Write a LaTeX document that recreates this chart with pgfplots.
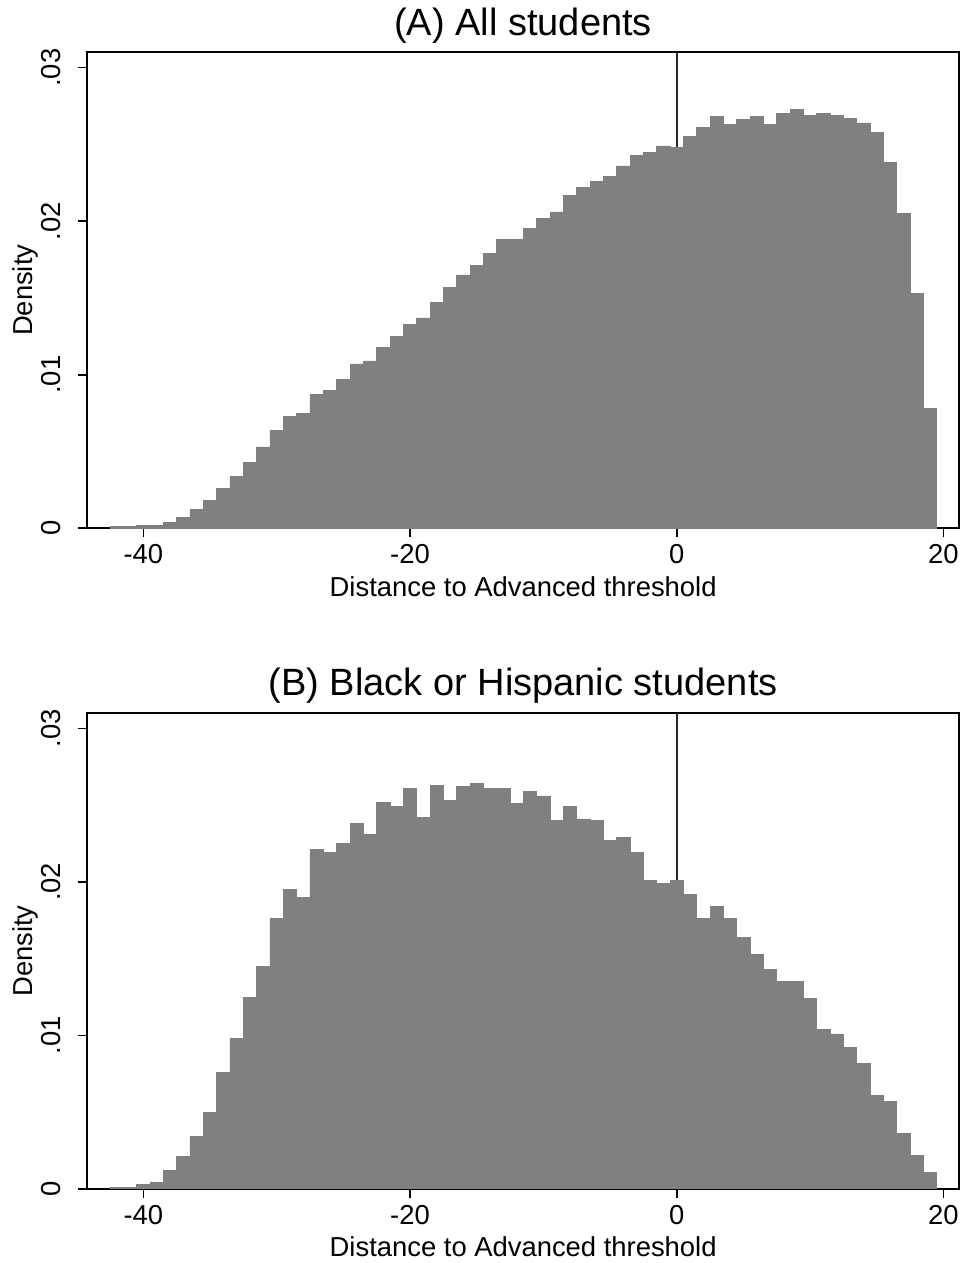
\documentclass[border=0pt]{standalone}
\usepackage{fontspec}
\setmainfont{Liberation Sans}
\usepackage{pgfplots}
\pgfplotsset{compat=1.18}
\usepackage{pgfplotstable}

\definecolor{bargray}{RGB}{128,128,128}
\definecolor{linegray}{RGB}{40,40,40}

% bin centre, density
\pgfplotstableread{
bin dens
-42 0.0001
-41 0.0001
-40 0.0002
-39 0.0002
-38 0.0004
-37 0.0007
-36 0.0012
-35 0.0018
-34 0.0026
-33 0.0034
-32 0.0043
-31 0.0053
-30 0.0064
-29 0.0073
-28 0.0075
-27 0.0087
-26 0.0090
-25 0.0097
-24 0.0107
-23 0.0109
-22 0.0118
-21 0.0125
-20 0.0133
-19 0.0137
-18 0.0147
-17 0.0157
-16 0.0165
-15 0.0171
-14 0.0179
-13 0.0188
-12 0.0188
-11 0.0195
-10 0.0202
-9 0.0206
-8 0.0217
-7 0.0222
-6 0.0226
-5 0.0229
-4 0.0236
-3 0.0243
-2 0.0245
-1 0.0249
0 0.0248
1 0.0255
2 0.0261
3 0.0268
4 0.0263
5 0.0266
6 0.0268
7 0.0263
8 0.0270
9 0.0273
10 0.0269
11 0.0270
12 0.0269
13 0.0267
14 0.0264
15 0.0258
16 0.0238
17 0.0205
18 0.0153
19 0.0078
}\allstudents

\pgfplotstableread{
bin dens
-42 0.0001
-41 0.0001
-40 0.0003
-39 0.0004
-38 0.0012
-37 0.0021
-36 0.0034
-35 0.0050
-34 0.0076
-33 0.0098
-32 0.0125
-31 0.0145
-30 0.0176
-29 0.0195
-28 0.0190
-27 0.0221
-26 0.0219
-25 0.0225
-24 0.0238
-23 0.0231
-22 0.0252
-21 0.0249
-20 0.0261
-19 0.0242
-18 0.0263
-17 0.0253
-16 0.0262
-15 0.0264
-14 0.0261
-13 0.0261
-12 0.0251
-11 0.0259
-10 0.0256
-9 0.0240
-8 0.0249
-7 0.0241
-6 0.0240
-5 0.0227
-4 0.0229
-3 0.0219
-2 0.0201
-1 0.0199
0 0.0201
1 0.0192
2 0.0176
3 0.0184
4 0.0176
5 0.0164
6 0.0153
7 0.0143
8 0.0135
9 0.0135
10 0.0124
11 0.0104
12 0.0101
13 0.0092
14 0.0082
15 0.0061
16 0.0057
17 0.0036
18 0.0022
19 0.0011
}\blackhisp

\pgfplotsset{
  histax/.style={
    scale only axis,
    width=435.85pt, height=238pt,
    xmin=-44.2, xmax=21.17,
    ymin=0, ymax=0.031,
    axis line style={black, line width=0.8pt},
    tick style={black, line width=0.8pt},
    tick align=outside,
    major tick length=4.5pt,
    xtick pos=bottom, ytick pos=left,
    scaled y ticks=false,
    xtick={-40,-20,0,20},
    xticklabels={-40,-20,0,20},
    ytick={0,0.01,0.02,0.03},
    yticklabels={0,.01,.02,.03},
    tick label style={font=\fontsize{13.7pt}{16pt}\selectfont},
    xticklabel style={yshift=-2.5pt, inner ysep=1pt},
    yticklabel style={rotate=90, anchor=south, yshift=5pt},
    label style={font=\fontsize{13.7pt}{16pt}\selectfont},
    xlabel={Distance to Advanced threshold},
    ylabel={Density},
    xlabel style={at={(axis description cs:0.5,0)}, anchor=base, yshift=-34pt, inner ysep=1pt},
    ylabel style={at={(axis description cs:0,0.5)}, anchor=base, yshift=27.6pt},
    title style={font=\fontsize{19pt}{22pt}\selectfont, at={(axis description cs:0.5,1)}, anchor=base, yshift=2.5pt},
  },
  histbar/.style={ybar, bar width=1, fill=bargray, draw=bargray, line width=0.4pt},
}

\begin{document}
\begin{tikzpicture}
\useasboundingbox (-43.65pt,-37pt) rectangle (438.35pt,594.5pt);

\begin{axis}[histax, at={(0pt,330.35pt)}, anchor=south west, title={(A) All students}]
  \addplot[linegray, line width=1.2pt] coordinates {(0,0) (0,0.031)};
  \addplot[histbar] table[x=bin, y=dens] {\allstudents};
\end{axis}

\begin{axis}[histax, at={(0pt,0pt)}, anchor=south west, title={(B) Black or Hispanic students}]
  \addplot[linegray, line width=1.2pt] coordinates {(0,0) (0,0.031)};
  \addplot[histbar] table[x=bin, y=dens] {\blackhisp};
\end{axis}
\end{tikzpicture}
\end{document}
